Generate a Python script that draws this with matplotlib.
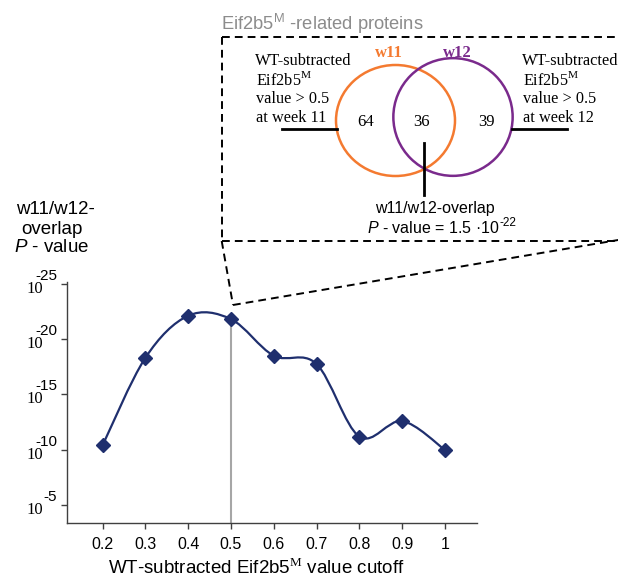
import numpy as np
import matplotlib
matplotlib.use("Agg")
import matplotlib.pyplot as plt
import matplotlib.transforms as mtransforms
from matplotlib.path import Path
from matplotlib.patches import PathPatch, Ellipse

plt.rcParams['font.family'] = ['Liberation Sans', 'DejaVu Sans']
plt.rcParams['mathtext.fontset'] = 'custom'
plt.rcParams['mathtext.rm'] = 'Liberation Serif'
plt.rcParams['mathtext.sf'] = 'Liberation Sans'
plt.rcParams['mathtext.it'] = 'Liberation Sans:italic'

# data: cutoff vs overlap P-value (as -log10 P)
cutoffs = [0.2, 0.3, 0.4, 0.5, 0.6, 0.7, 0.8, 0.9, 1.0]
neg_log_p = [10.4, 18.3, 22.1, 21.8, 18.5, 17.75, 11.2, 12.6, 10.0]
ytick_exp = [5, 10, 15, 20, 25]
chosen_cutoff = 0.5

# venn counts
only_w11 = 64
both = 36
only_w12 = 39

navy = '#1f2f6e'
orange = '#f47a30'
purple = '#7a2a8c'
axcol = '#404040'
serif = 'Liberation Serif'

fig = plt.figure(figsize=(6.18, 5.85), dpi=100)
ax = fig.add_axes([67/618, 1-523/585, (477-67)/618, (523-282)/585])
ax.set_xlim(0.117, 1.075)
ax.set_ylim(3.4, 25.15)

# smoothed line (excel-style bezier through the points)
pts = np.column_stack([cutoffs, neg_log_p])
verts = [pts[0]]
codes = [Path.MOVETO]
n = len(pts)
for i in range(n-1):
    p0 = pts[max(i-1, 0)]
    p1 = pts[i]
    p2 = pts[i+1]
    p3 = pts[min(i+2, n-1)]
    verts += [p1 + (p2-p0)/6, p2 - (p3-p1)/6, p2]
    codes += [Path.CURVE4]*3
ax.add_patch(PathPatch(Path(verts, codes), fc='none', ec=navy, lw=1.6, zorder=3))
ax.plot(cutoffs, neg_log_p, ls='none', marker='D', ms=7, color=navy, zorder=4)

i5 = cutoffs.index(chosen_cutoff)
ax.plot([chosen_cutoff, chosen_cutoff], [3.4, neg_log_p[i5]], color='#a6a6a6', lw=1.5, zorder=2)

for s in ['top', 'right']:
    ax.spines[s].set_visible(False)
for s in ['left', 'bottom']:
    ax.spines[s].set_color(axcol)
    ax.spines[s].set_linewidth(1.0)
ax.set_xticks(cutoffs)
ax.set_xticklabels(['0.2', '0.3', '0.4', '0.5', '0.6', '0.7', '0.8', '0.9', '1'], fontsize=11.5)
ax.set_yticks(ytick_exp)
ax.set_yticklabels([])
ax.tick_params(axis='both', direction='out', length=4, width=1, color=axcol)
ax.tick_params(axis='x', pad=6)

# overlay in pixel coords
ov = fig.add_axes([0, 0, 1, 1], facecolor='none')
ov.set_xlim(0, 618)
ov.set_ylim(585, 0)
ov.axis('off')

# y tick labels: 10 with superscript
bt = mtransforms.blended_transform_factory(ov.transData, ax.transData)
for e in ytick_exp:
    ov.text(43, e, '10', transform=mtransforms.offset_copy(bt, fig, y=-5, units='dots'),
            ha='right', va='center', fontsize=12, family=serif)
    ov.text(57, e, '-%d' % e, transform=mtransforms.offset_copy(bt, fig, y=8, units='dots'),
            ha='right', va='center', fontsize=11)

# y label
ov.text(55, 210, 'w11/w12-', ha='center', va='center', fontsize=13.5)
ov.text(52, 230, 'overlap', ha='center', va='center', fontsize=13.5)
ov.text(52, 248, r'$P$ - value', ha='center', va='center', fontsize=13.5)

# x label
ov.text(256, 568, r'WT-subtracted Eif2b5$^{\mathrm{M}}$ value cutoff', ha='center', va='center', fontsize=13.5)

# title of callout
ov.text(221, 24, r'Eif2b5$^{\mathsf{M}}$ -related proteins', ha='left', va='center', fontsize=13.2, color='#8c8c8c')

# dashed callout
dash = dict(color='black', lw=1.4, ls=(0, (4, 2.6)))
ov.plot([221.7, 630], [36.7, 36.7], **dash)
ov.plot([221.7, 221.7], [36.7, 241], **dash)
ov.plot([221.7, 630], [241, 241], **dash)
ov.plot([221.7, 233], [241, 305], **dash)
ov.plot([233, 630], [305, 238], **dash)

# venn
ov.add_patch(Ellipse((395.5, 120.5), 119, 111, fc='none', ec=orange, lw=1.8))
ov.add_patch(Ellipse((453, 117), 119.3, 117.7, fc='none', ec=purple, lw=1.8))
ov.text(389, 53, 'w11', ha='center', va='center', fontsize=12, family=serif, weight='bold', color=orange)
ov.text(457.5, 53, 'w12', ha='center', va='center', fontsize=12, family=serif, weight='bold', color=purple)
ov.text(366, 122.5, str(only_w11), ha='center', va='center', fontsize=12, family=serif)
ov.text(421.7, 122.5, str(both), ha='center', va='center', fontsize=12, family=serif)
ov.text(486.7, 122.5, str(only_w12), ha='center', va='center', fontsize=12, family=serif)

ov.plot([281.7, 336.7], [129.3, 129.3], color='black', lw=2)
ov.plot([511.7, 566.7], [129.3, 129.3], color='black', lw=2)
ov.plot([424.3, 424.3], [143, 195], color='black', lw=2)

for x0, wk in [(255, 11), (521.5, 12)]:
    ov.text(x0, 65, 'WT-subtracted', ha='left', va='baseline', fontsize=11.7, family=serif)
    ov.text(x0+1.5, 85, r'Eif2b5$^{\mathrm{M}}$', ha='left', va='baseline', fontsize=11.7, family=serif)
    ov.text(x0+1.5, 103, 'value > 0.5', ha='left', va='baseline', fontsize=11.7, family=serif)
    ov.text(x0+1.5, 122, 'at week %d' % wk, ha='left', va='baseline', fontsize=11.7, family=serif)

ov.text(435, 208, 'w11/w12-overlap', ha='center', va='center', fontsize=11.5)
pv = ov.text(367, 228, '$P$ - value = 1.5 \u00b710', ha='left', va='center', fontsize=11.5)
ov.annotate('-22', xy=(1, 0.8), xycoords=pv, ha='left', va='center', fontsize=8.5)

fig.savefig('out.png', dpi=100)
